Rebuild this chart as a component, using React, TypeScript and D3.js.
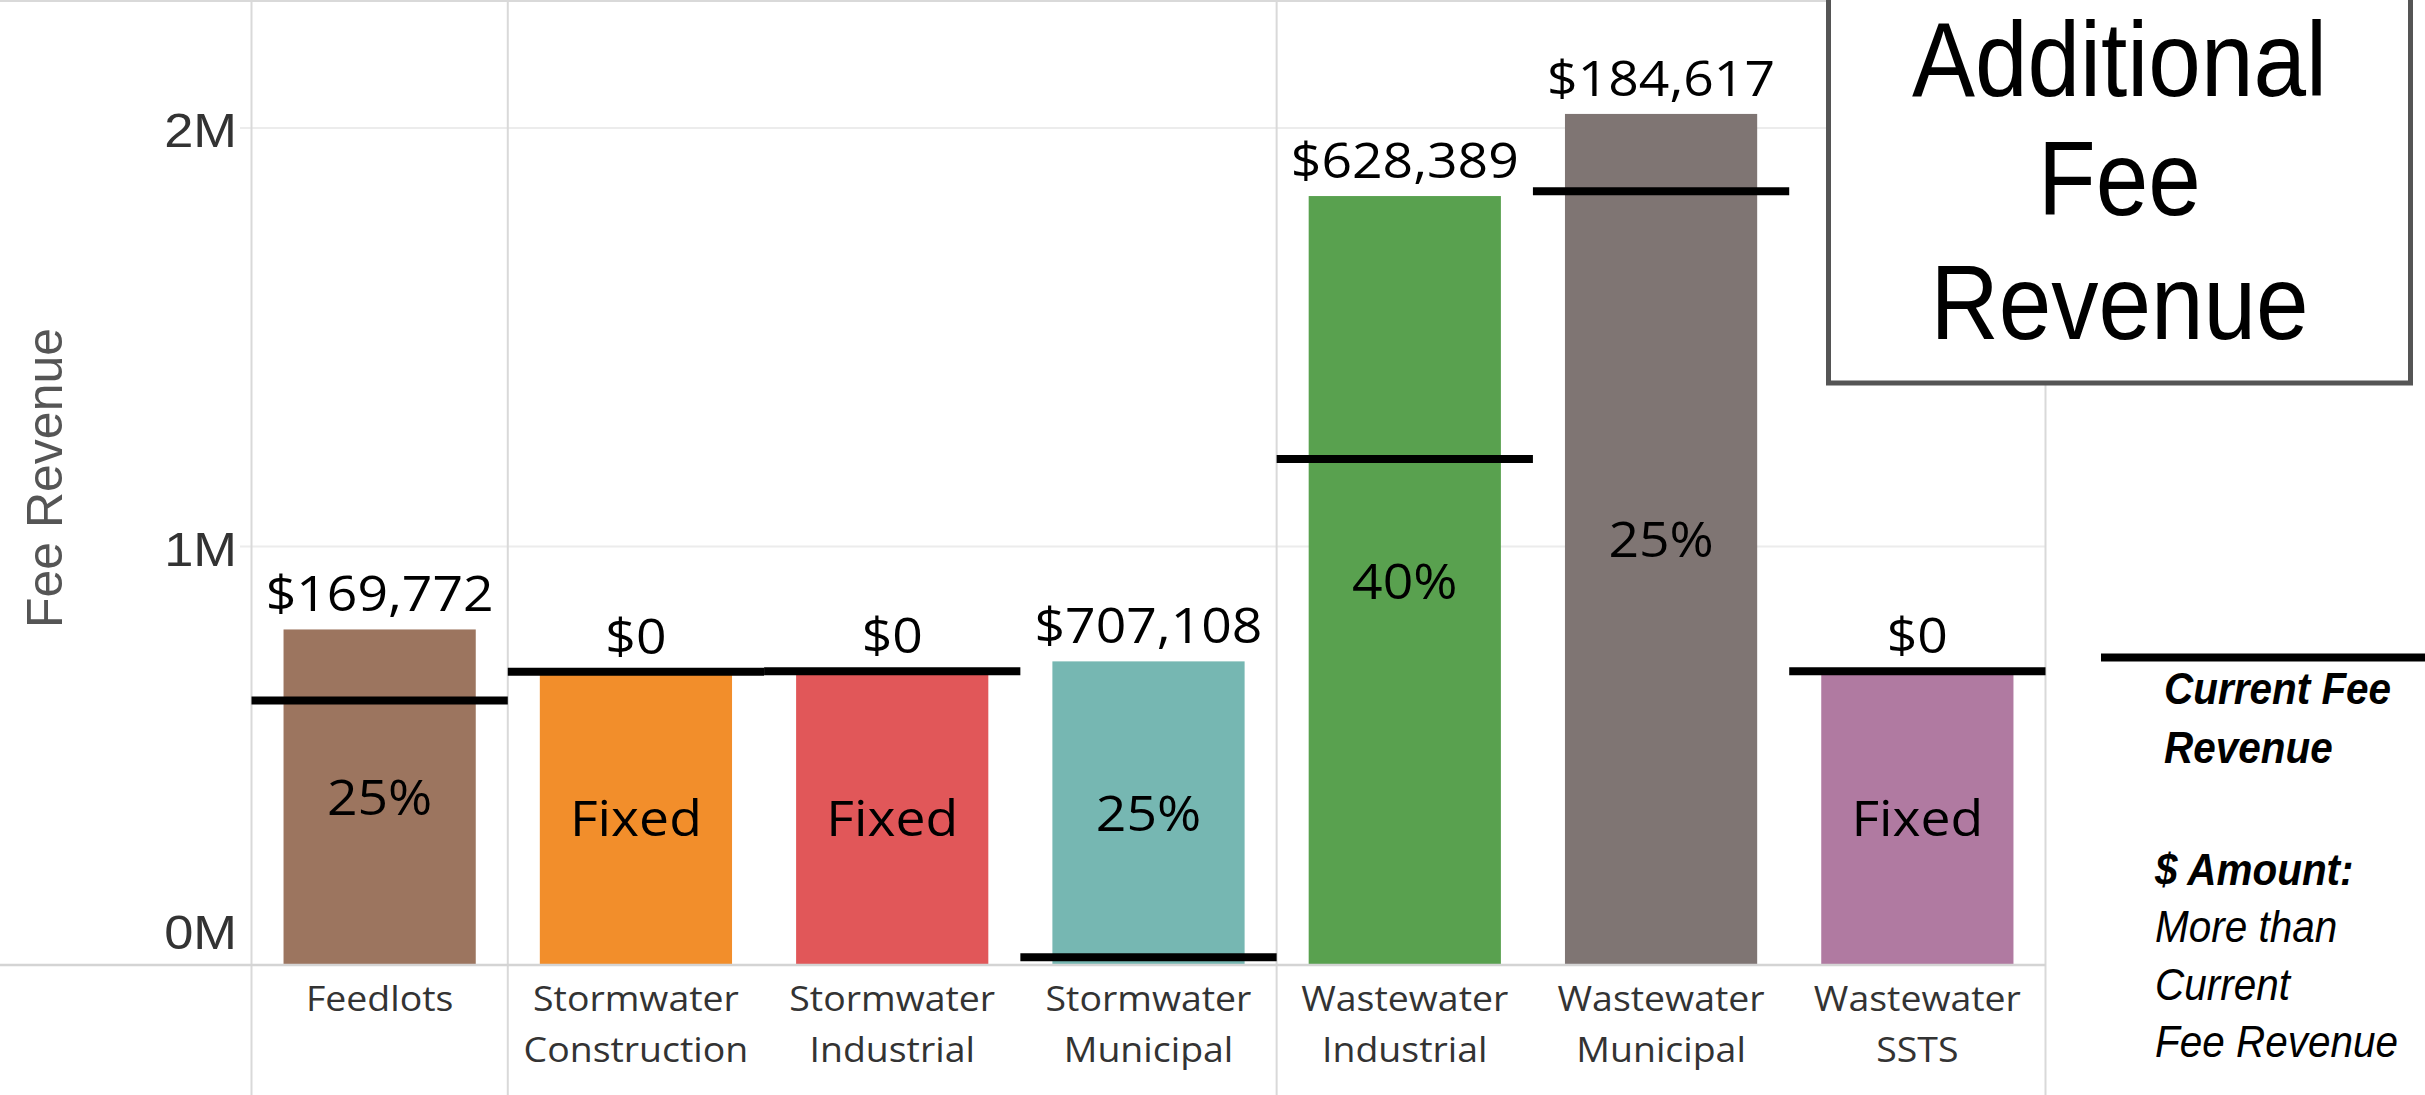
import * as React from "react"
import * as d3 from "d3"

// categories and values
const categories = [
    "Feedlots",
    "Stormwater Construction",
    "Stormwater Industrial",
    "Stormwater Municipal",
    "Wastewater Industrial",
    "Wastewater Municipal",
    "Wastewater SSTS",
]
const currentRevenue = [632000, 701000, 702000, 18400, 1209000, 1849000, 702000]
const additionalRevenue = [169772, 0, 0, 707108, 628389, 184617, 0]
const increaseLabels = ["25%", "Fixed", "Fixed", "25%", "40%", "25%", "Fixed"]
const barColors = ["#9c755f", "#f28e2b", "#e15759", "#76b7b2", "#59a14f", "#7f7573", "#b07aa1"]
const yTicks = [0, 1000000, 2000000]
const groupEnds = ["Feedlots", "Stormwater Municipal"]
const titleLines = ["Additional", "Fee", "Revenue"]
const legendLines = [
    { text: "Current Fee", bold: true },
    { text: "Revenue", bold: true },
    { text: "$ Amount:", bold: true },
    { text: "More than", bold: false },
    { text: "Current", bold: false },
    { text: "Fee Revenue", bold: false },
]

const width = 2425
const height = 1095
const SX = 1.07 // the source picture is a little stretched sideways

function Txt({ x, y, sx = SX, children, ...rest }) {
    return (
        <text transform={`translate(${x},${y}) scale(${sx},1)`} {...rest}>
            {children}
        </text>
    )
}

export default function App() {
    const x = d3
        .scaleBand()
        .domain(categories)
        .range([251.5, 2045.5])
        .paddingInner(0.25)
        .paddingOuter(0.125)
    const y = d3.scaleLinear().domain([0, 2000000]).range([965, 128])
    const step = x.step()
    const cellStart = (c) => x(c) - step * 0.125
    const fmt = d3.format("$,")
    const valueFont = "'Open Sans', sans-serif"

    const rows = categories.map((c, i) => ({
        cat: c,
        current: currentRevenue[i],
        extra: additionalRevenue[i],
        total: currentRevenue[i] + additionalRevenue[i],
        label: increaseLabels[i],
        color: barColors[i],
    }))

    const legendBaselines = [704, 763, 885, 942, 1000, 1057]
    const titleBaselines = [96, 215, 339]

    return (
        <div>
            <style>{"body{margin:0}"}</style>
            <svg width={width} height={height} style={{ display: "block", background: "#fff" }}>
                {/* frame lines */}
                <line x1={0} x2={2045.5} y1={1} y2={1} stroke="#d9d9d9" strokeWidth={2} />
                {yTicks.filter((t) => t > 0).map((t) => (
                    <line key={t} x1={240} x2={2045.5} y1={y(t)} y2={y(t)} stroke="#ececec" strokeWidth={2} />
                ))}
                {[251.5, ...groupEnds.map((c) => cellStart(c) + step), 2045.5].map((px, i) => (
                    <line key={i} x1={px} x2={px} y1={0} y2={height} stroke="#d9d9d9" strokeWidth={2} />
                ))}

                {/* bars */}
                {rows.map((r) => (
                    <rect key={r.cat} x={x(r.cat)} y={y(r.total)} width={x.bandwidth()} height={y(0) - y(r.total)} fill={r.color} />
                ))}
                <line x1={0} x2={2045.5} y1={y(0)} y2={y(0)} stroke="#d4d4d4" strokeWidth={2.5} />

                {/* current revenue reference lines */}
                {rows.map((r) => (
                    <line
                        key={r.cat}
                        x1={cellStart(r.cat)}
                        x2={cellStart(r.cat) + step}
                        y1={y(r.current)}
                        y2={y(r.current)}
                        stroke="#000"
                        strokeWidth={8}
                    />
                ))}

                {/* labels */}
                {rows.map((r) => (
                    <g key={r.cat} fontFamily={valueFont} fontSize={50} fill="#000" textAnchor="middle">
                        <Txt x={x(r.cat) + x.bandwidth() / 2} y={y(Math.max(r.total, r.current)) - 18}>
                            {fmt(r.extra)}
                        </Txt>
                        <Txt x={x(r.cat) + x.bandwidth() / 2} y={(y(r.total) + y(0)) / 2 + 18}>
                            {r.label}
                        </Txt>
                    </g>
                ))}

                {/* y axis */}
                {yTicks.map((t) => (
                    <Txt
                        key={t}
                        x={237}
                        y={Math.min(y(t) + 19, 949)}
                        textAnchor="end"
                        fontFamily="'Liberation Sans', Arial, sans-serif"
                        fontSize={49}
                        fill="#333"
                    >
                        {d3.format(".0f")(t / 1e6) + "M"}
                    </Txt>
                ))}
                <text
                    transform={`translate(62,478) rotate(-90)`}
                    textAnchor="middle"
                    fontFamily="'Liberation Sans', Arial, sans-serif"
                    fontSize={50}
                    fill="#555"
                >
                    Fee Revenue
                </text>

                {/* x axis */}
                {rows.map((r) => (
                    <g key={r.cat} fontFamily={valueFont} fontSize={35} fill="#333" textAnchor="middle">
                        {r.cat.split(" ").map((w, k) => (
                            <Txt key={k} x={x(r.cat) + x.bandwidth() / 2} y={1011 + k * 51}>
                                {w}
                            </Txt>
                        ))}
                    </g>
                ))}

                {/* title box */}
                <rect x={1828.5} y={-10} width={582} height={393} fill="#fff" stroke="#555" strokeWidth={5} />
                {titleLines.map((t, i) => (
                    <Txt
                        key={t}
                        x={2119.5}
                        y={titleBaselines[i]}
                        sx={0.9}
                        textAnchor="middle"
                        fontFamily="'Liberation Sans', Arial, sans-serif"
                        fontSize={105}
                        fill="#000"
                    >
                        {t}
                    </Txt>
                ))}

                {/* legend */}
                <line x1={2101} x2={width} y1={657.5} y2={657.5} stroke="#000" strokeWidth={8} />
                {legendLines.map((l, i) => (
                    <Txt
                        key={i}
                        x={i < 2 ? 2164 : 2155}
                        y={legendBaselines[i]}
                        sx={0.92}
                        fontFamily="'Liberation Sans', Arial, sans-serif"
                        fontSize={44}
                        fontStyle="italic"
                        fontWeight={l.bold ? 700 : 400}
                        fill="#000"
                    >
                        {l.text}
                    </Txt>
                ))}
            </svg>
        </div>
    )
}
